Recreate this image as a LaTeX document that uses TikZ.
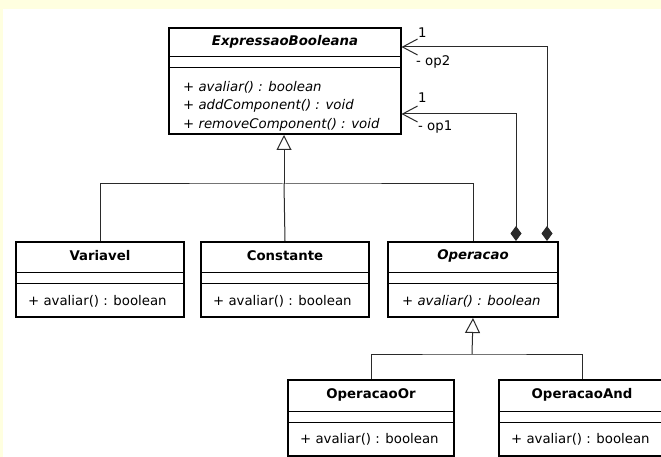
\documentclass[tikz,border=0pt]{standalone}
\usepackage{fontspec}
\setmainfont{DejaVu Sans}
\usetikzlibrary{arrows.meta,calc}
\definecolor{pagebg}{HTML}{FFFFE0}
\definecolor{linegray}{HTML}{2A2A2A}
\tikzset{
  classbox/.style={
    rectangle,
    draw=black,
    line width=2pt,
    fill=white,
    inner sep=0pt,
    anchor=north west
  },
  classname/.style={font=\fontsize{13.3}{15}\selectfont\bfseries, inner sep=0pt},
  member/.style={font=\fontsize{13.3}{15}\selectfont, inner sep=0pt, anchor=west},
  rolelabel/.style={font=\fontsize{13.3}{15}\selectfont, inner sep=0pt, anchor=west},
  divider/.style={line width=1pt, black},
  genline/.style={line width=1pt, linegray},
  genhead/.style={genline, -{Triangle[open, length=15pt, width=15pt, fill=white]}},
  compline/.style={line width=1pt, linegray,
    {Diamond[length=15pt, width=11pt]}-{Straight Barb[length=15pt, width=16pt]}}
}

\begin{document}
\begin{tikzpicture}[x=1pt, y=-1pt]
  \useasboundingbox (0,0) rectangle (661,457);
  \fill[pagebg] (0,0) rectangle (661,457);
  \fill[white] (3,9) rectangle (661,457);

  % classes
  \node[classbox, minimum width=232pt, minimum height=106pt] (expr) at (168,27) {};
  \node[classbox, minimum width=168pt, minimum height=75pt] (var) at (15,241) {};
  \node[classbox, minimum width=168pt, minimum height=75pt] (const) at (200,241) {};
  \node[classbox, minimum width=170pt, minimum height=75pt] (oper) at (387,241) {};
  \node[classbox, minimum width=166pt, minimum height=76pt] (opor) at (287,379) {};
  \node[classbox, minimum width=166pt, minimum height=76pt] (opand) at (498,379) {};

  % compartments
  \foreach \cls/\top in {expr/30, var/31, const/31, oper/31, opor/32, opand/32} {
    \draw[divider] ([yshift=-\top pt]\cls.north west) -- ([yshift=-\top pt]\cls.north east);
    \draw[divider] ([yshift=-\top pt-11pt]\cls.north west) -- ([yshift=-\top pt-11pt]\cls.north east);
  }

  % names and operations
  \node[classname] (exprname) at ([yshift=-15pt]expr.north) {\itshape ExpressaoBooleana};
  \node[member] (exprm1) at ([xshift=15pt, yshift=-60pt]expr.north west) {\itshape + avaliar() : boolean};
  \node[member] (exprm2) at ([xshift=15pt, yshift=-79pt]expr.north west) {\itshape + addComponent() : void};
  \node[member] (exprm3) at ([xshift=15pt, yshift=-98pt]expr.north west) {\itshape + removeComponent() : void};

  \node[classname] (varname) at ([yshift=-15pt]var.north) {Variavel};
  \node[member] (varm1) at ([xshift=13pt, yshift=-60pt]var.north west) {+ avaliar() : boolean};

  \node[classname] (constname) at ([yshift=-15pt]const.north) {Constante};
  \node[member] (constm1) at ([xshift=13pt, yshift=-60pt]const.north west) {+ avaliar() : boolean};

  \node[classname] (opername) at ([yshift=-15pt]oper.north) {\itshape Operacao};
  \node[member] (operm1) at ([xshift=15pt, yshift=-60pt]oper.north west) {\itshape + avaliar() : boolean};

  \node[classname] (opororname) at ([yshift=-16pt]opor.north) {OperacaoOr};
  \node[member] (oporm1) at ([xshift=13pt, yshift=-60pt]opor.north west) {+ avaliar() : boolean};

  \node[classname] (opandname) at ([yshift=-16pt]opand.north) {OperacaoAnd};
  \node[member] (opandm1) at ([xshift=13pt, yshift=-60pt]opand.north west) {+ avaliar() : boolean};

  % generalizations
  \coordinate (gen1) at (284,184);
  \coordinate (gen2) at (472,354);
  \draw[genline] (var.north) |- (gen1) -| (oper.north);
  \draw[genline] (const.north) -- (gen1);
  \draw[genhead] (gen1) -- (gen1 |- expr.south);
  \draw[genline] (opor.north) |- (gen2) -| (opand.north);
  \draw[genhead] (gen2) -- (oper.south);

  % compositions
  \draw[compline, shorten >=-0.5pt] ([xshift=-12pt]oper.north east) |- ([yshift=-20pt]expr.north east);
  \draw[compline, shorten >=-0.5pt] ([xshift=-43pt]oper.north east) |- ([yshift=21pt]expr.south east);
  \node[rolelabel] (op2mult) at (418,33) {1};
  \node[rolelabel] (op2role) at (416,62) {- op2};
  \node[rolelabel] (op1mult) at (418,98) {1};
  \node[rolelabel] (op1role) at (418,127) {- op1};
\end{tikzpicture}
\end{document}
